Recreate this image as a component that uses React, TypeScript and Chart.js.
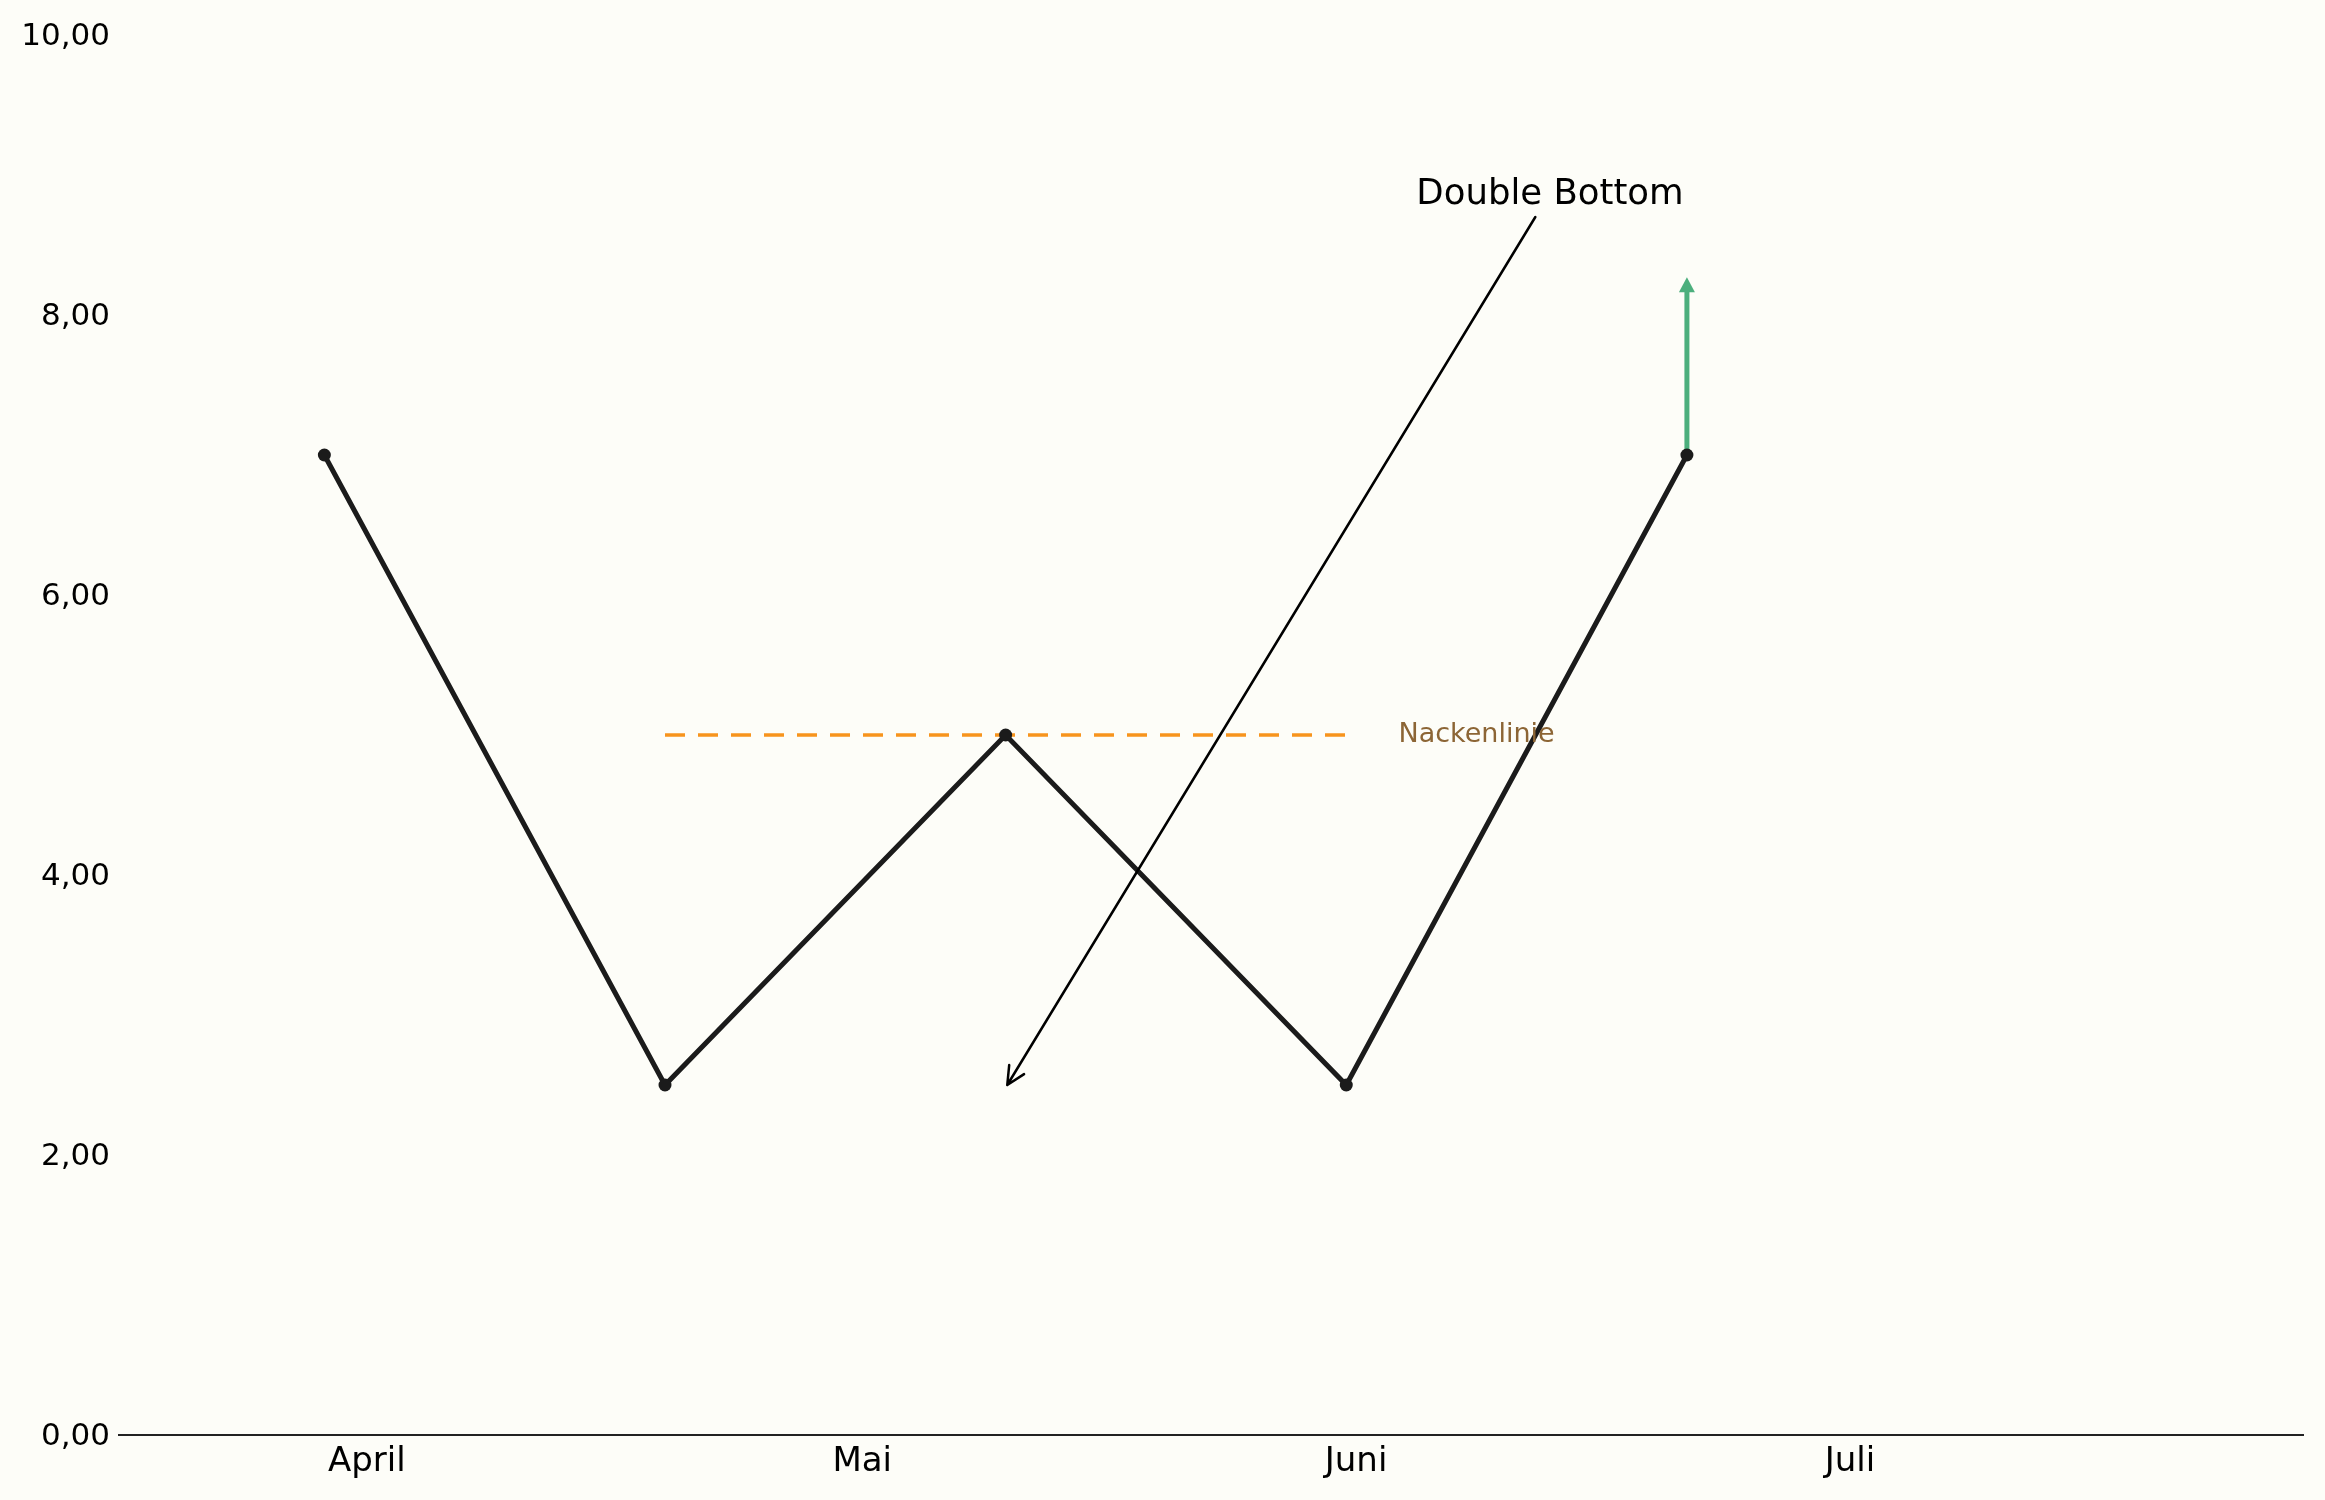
import { useEffect, useRef } from 'react'
import { Chart, registerables, type Plugin } from 'chart.js'
Chart.register(...registerables)

// x values are days counted from 1 April
const monthNames = ['April', 'Mai', 'Juni', 'Juli']
const monthDays = [0, 30.4, 60.7, 91]
const pointDays = [-2.6, 18.3, 39.2, 60.1, 81.0]
const prices = [7, 2.5, 5, 2.5, 7]
const necklineDays = [18.3, 60.1]
const necklineLevel = 5
const necklineLabel = 'Nackenlinie'
const necklineLabelDay = 63.3
const breakoutDay = 81.0
const breakoutFrom = 7
const breakoutTo = 8.27
const annotationLabel = 'Double Bottom'
const annotationTextAt = { x: 72.6, y: 8.86 }
const annotationFrom = { x: 71.7, y: 8.7 }
const annotationTip = { x: 39.3, y: 2.5 }
const yTicks = [0, 2, 4, 6, 8, 10]

const FONT = '"DejaVu Sans", Verdana, sans-serif'
const BG = '#fdfdf8'
const GREEN = '#4caf7d'

const overlay: Plugin<'line'> = {
  id: 'overlay',
  afterDatasetsDraw(chart) {
    const { ctx } = chart
    const x = chart.scales.x
    const y = chart.scales.y
    ctx.save()

    // neckline label
    ctx.font = `27px ${FONT}`
    ctx.fillStyle = '#8c6535'
    ctx.textAlign = 'left'
    ctx.textBaseline = 'middle'
    ctx.fillText(necklineLabel, x.getPixelForValue(necklineLabelDay), y.getPixelForValue(necklineLevel))

    // breakout arrow head
    const hx = x.getPixelForValue(breakoutDay)
    const hy = y.getPixelForValue(breakoutTo)
    ctx.fillStyle = GREEN
    ctx.beginPath()
    ctx.moveTo(hx, hy)
    ctx.lineTo(hx - 8, hy + 15)
    ctx.lineTo(hx + 8, hy + 15)
    ctx.closePath()
    ctx.fill()

    // annotation arrow
    const sx = x.getPixelForValue(annotationFrom.x)
    const sy = y.getPixelForValue(annotationFrom.y)
    const tx = x.getPixelForValue(annotationTip.x)
    const ty = y.getPixelForValue(annotationTip.y)
    ctx.strokeStyle = '#000'
    ctx.lineWidth = 2.5
    ctx.lineCap = 'round'
    ctx.beginPath()
    ctx.moveTo(sx, sy)
    ctx.lineTo(tx, ty)
    const ang = Math.atan2(sy - ty, sx - tx)
    const len = 20
    for (const d of [-0.45, 0.45]) {
      ctx.moveTo(tx, ty)
      ctx.lineTo(tx + len * Math.cos(ang + d), ty + len * Math.sin(ang + d))
    }
    ctx.stroke()

    ctx.font = `35.5px ${FONT}`
    ctx.fillStyle = '#000'
    ctx.textAlign = 'center'
    ctx.textBaseline = 'middle'
    ctx.fillText(annotationLabel, x.getPixelForValue(annotationTextAt.x), y.getPixelForValue(annotationTextAt.y))
    ctx.restore()
  },
}

export default function App() {
  const ref = useRef<HTMLCanvasElement>(null)

  useEffect(() => {
    if (!ref.current) return
    const chart = new Chart(ref.current, {
      type: 'line',
      data: {
        datasets: [
          {
            data: pointDays.map((d, i) => ({ x: d, y: prices[i] })),
            borderColor: '#1b1b1b',
            backgroundColor: '#1b1b1b',
            borderWidth: 5,
            pointRadius: 6.5,
            pointBorderWidth: 0,
            pointBackgroundColor: '#1b1b1b',
            tension: 0,
          },
          {
            data: necklineDays.map(d => ({ x: d, y: necklineLevel })),
            borderColor: '#f7941d',
            borderWidth: 3.5,
            borderDash: [20, 13],
            pointRadius: 0,
          },
          {
            data: [{ x: breakoutDay, y: breakoutFrom }, { x: breakoutDay, y: breakoutTo - 0.05 }],
            borderColor: GREEN,
            borderWidth: 5,
            pointRadius: 0,
          },
        ],
      },
      options: {
        animation: false,
        responsive: true,
        maintainAspectRatio: false,
        layout: { padding: { top: 35, right: 22, bottom: 0, left: 0 } },
        plugins: { legend: { display: false }, tooltip: { enabled: false } },
        scales: {
          x: {
            type: 'linear',
            min: -15.2,
            max: 118.8,
            afterBuildTicks: s => { s.ticks = monthDays.map(v => ({ value: v })) },
            afterFit: s => { s.height = 65 },
            grid: { display: false, drawTicks: false },
            border: { display: true, color: '#222', width: 2 },
            ticks: {
              padding: 7,
              color: '#000',
              font: { family: FONT, size: 34 },
              maxRotation: 0,
              autoSkip: false,
              callback: v => monthNames[monthDays.indexOf(Number(v))] ?? '',
            },
          },
          y: {
            type: 'linear',
            min: 0,
            max: 10,
            afterBuildTicks: s => { s.ticks = yTicks.map(v => ({ value: v })) },
            afterFit: s => { s.width = 119 },
            grid: { display: false, drawTicks: false },
            border: { display: false },
            ticks: {
              padding: 9,
              labelOffset: 2,
              color: '#000',
              font: { family: FONT, size: 31 },
              callback: v => Number(v).toFixed(2).replace('.', ','),
            },
          },
        },
      },
      plugins: [overlay],
    })
    return () => chart.destroy()
  }, [])

  return (
    <div style={{ position: 'fixed', left: 0, top: 0, width: 2325, height: 1500, background: BG }}>
      <canvas ref={ref} />
    </div>
  )
}
